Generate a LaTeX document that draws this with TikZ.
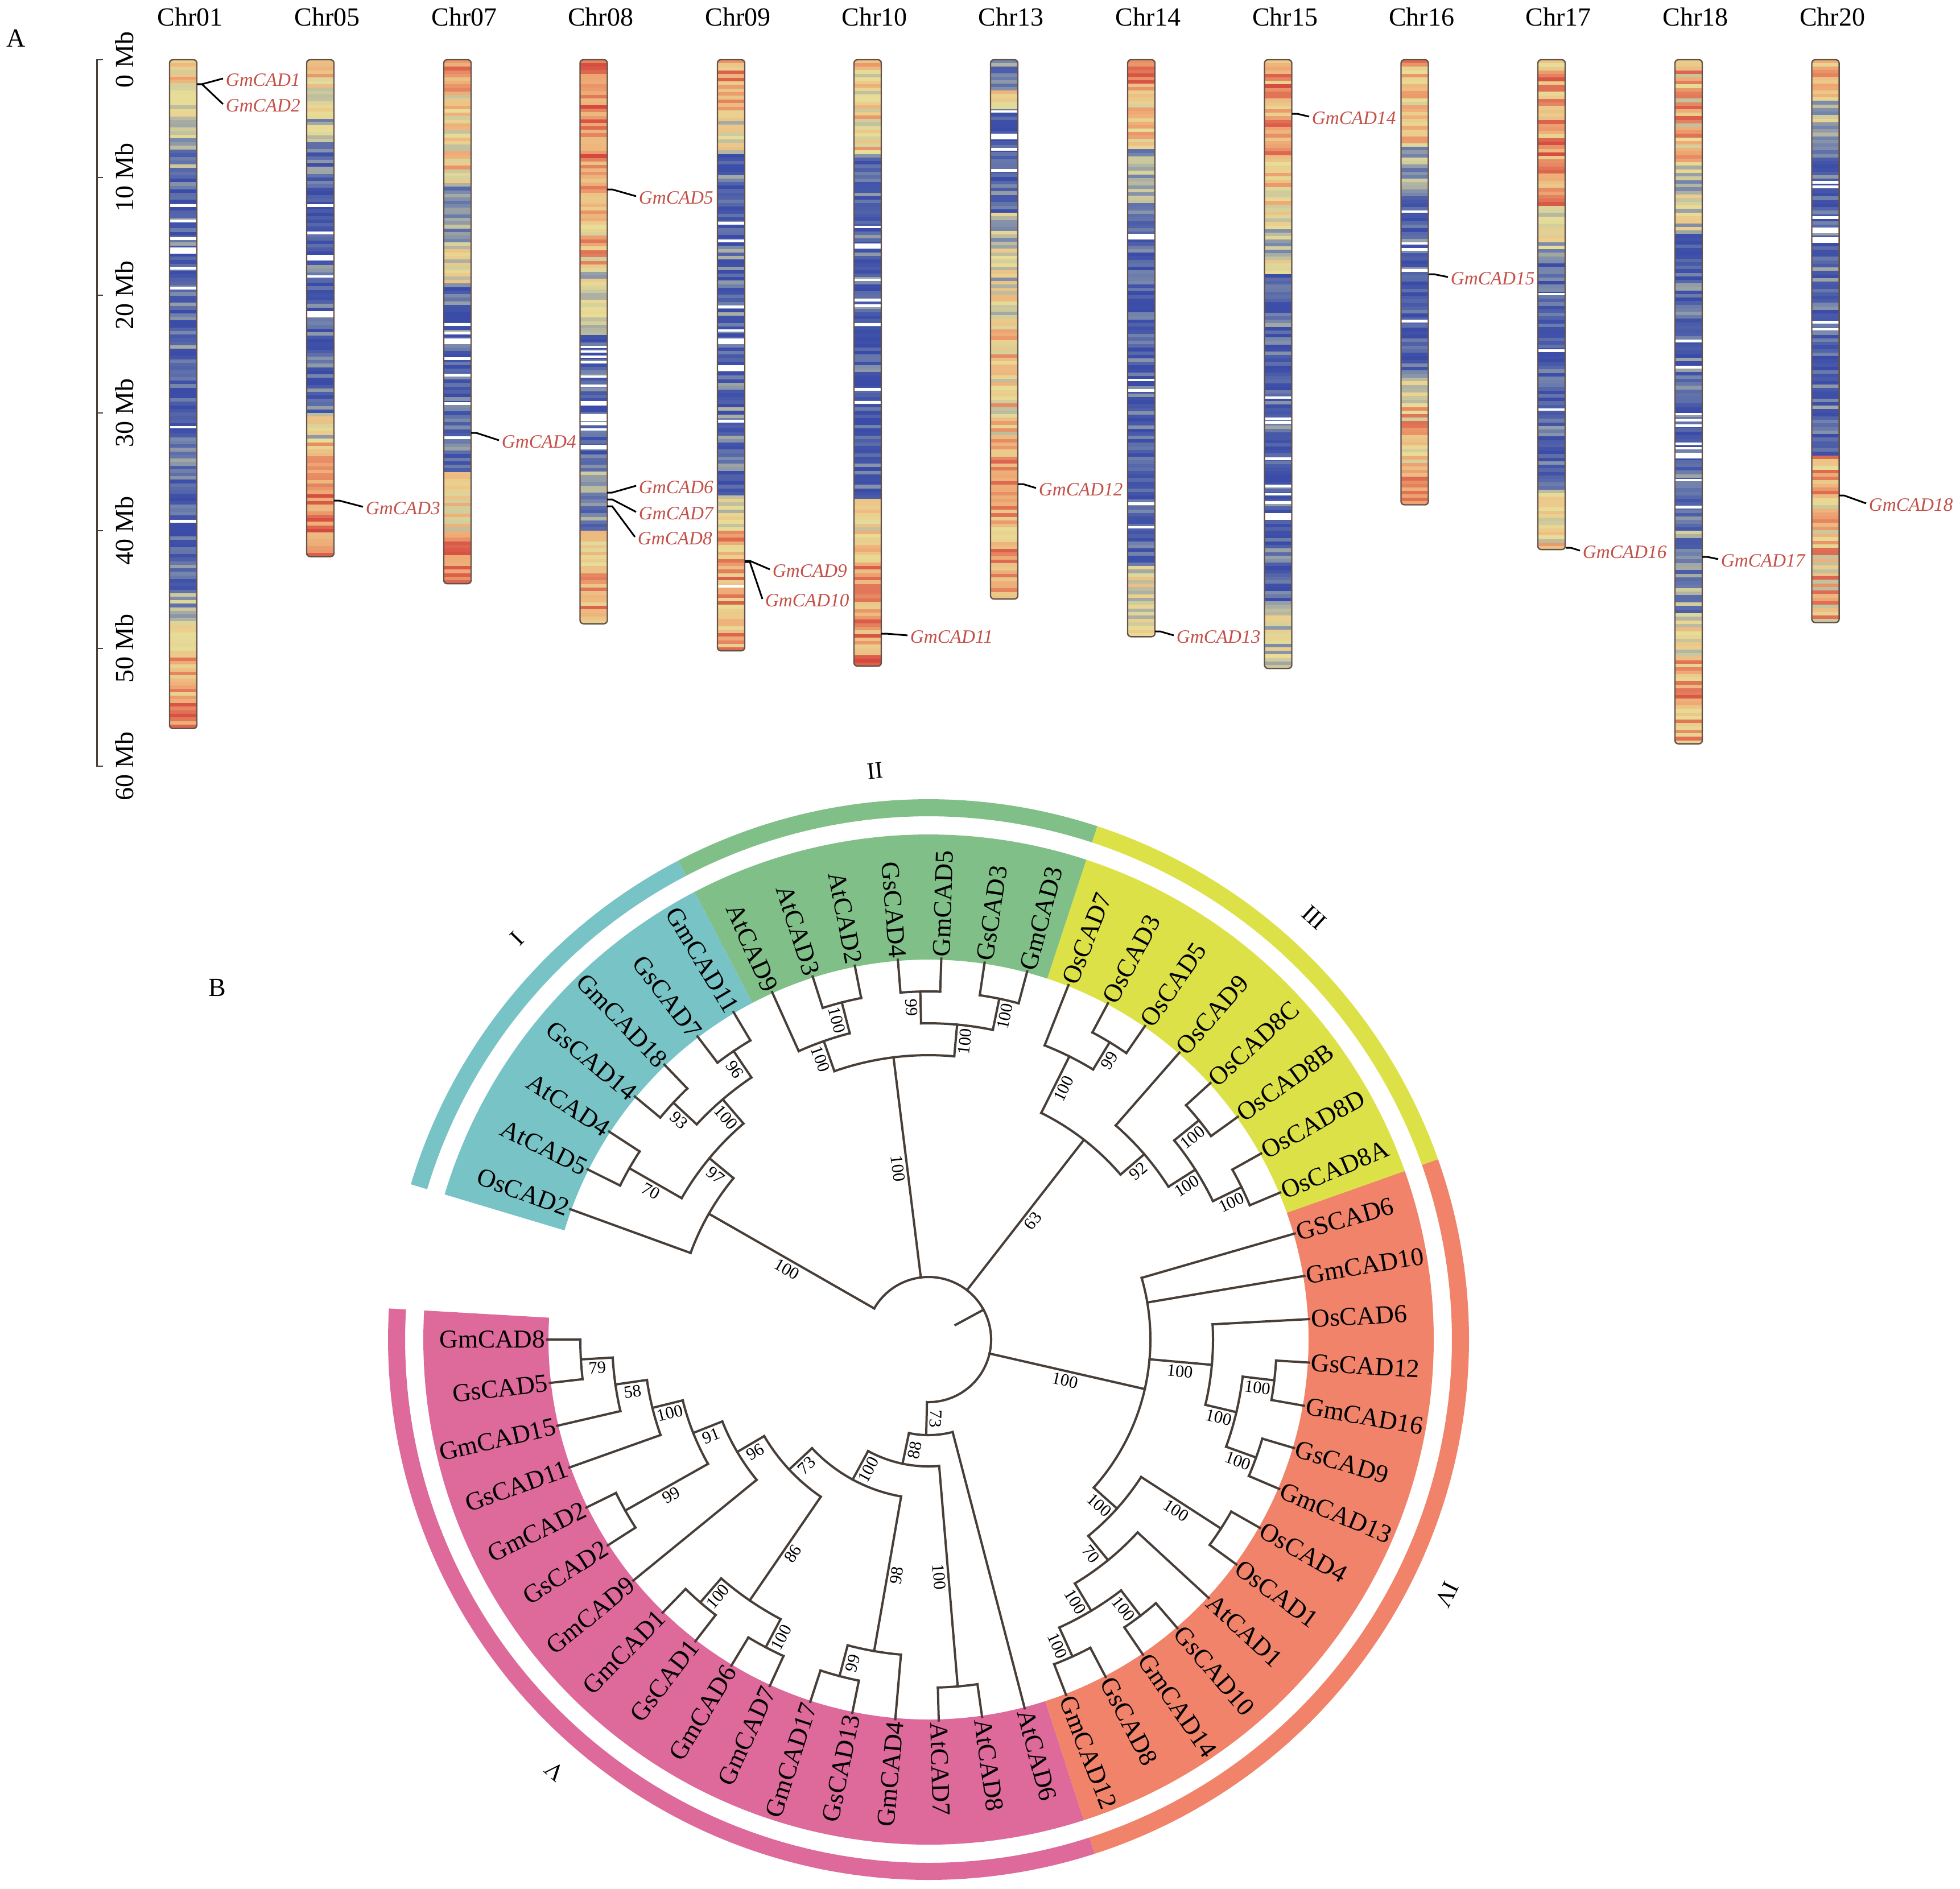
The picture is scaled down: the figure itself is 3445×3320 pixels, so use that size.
\documentclass[tikz,border=0pt]{standalone}
\usepackage{fontspec}
\setmainfont{Liberation Serif}
\definecolor{hZ}{RGB}{58,76,168}
\definecolor{hA}{RGB}{118,134,172}
\definecolor{hB}{RGB}{232,222,152}
\definecolor{hC}{RGB}{239,168,116}
\definecolor{hD}{RGB}{213,72,62}
\definecolor{cI}{RGB}{120,195,198}
\definecolor{cII}{RGB}{128,192,136}
\definecolor{cIII}{RGB}{221,225,72}
\definecolor{cIV}{RGB}{240,131,106}
\definecolor{cV}{RGB}{221,106,155}
\definecolor{brn}{RGB}{72,62,56}
\definecolor{chrout}{RGB}{100,82,72}
\definecolor{genered}{RGB}{196,80,72}
\newcommand\chrfont{\fontsize{11.5}{13}\selectfont}
\newcommand\genefont{\fontsize{8.3}{10}\selectfont\itshape}
\newcommand\leaffont{\fontsize{11.3}{13}\selectfont}
\newcommand\bootfont{\fontsize{7.6}{9}\selectfont}
\newcommand\romfont{\fontsize{10.5}{12}\selectfont}
% heat colour
\newcommand\sethc[1]{%
  \pgfmathsetmacro\hv{max(0,min(0.999,#1))}%
  \pgfmathtruncatemacro\hs{floor(\hv*4)}%
  \pgfmathtruncatemacro\hp{round(100*(\hv*4-\hs))}%
  \ifcase\hs \colorlet{hc}{hA!\hp!hZ}\or \colorlet{hc}{hB!\hp!hA}\or \colorlet{hc}{hC!\hp!hB}\or \colorlet{hc}{hD!\hp!hC}\else \colorlet{hc}{hD}\fi}
\newcommand\zone[5]{%
  \pgfmathtruncatemacro\zn{max(1,round((#3-#2)/0.3))}%
  \pgfmathsetmacro\zh{(#3-#2)/\zn}%
  \foreach \k in {1,...,\zn}{%
    \pgfmathsetmacro\rr{rnd}%
    \pgfmathsetmacro\dd{#4<0.01 ? #4+(#5-#4)*\rr*\rr : #4+(#5-#4)*\rr}%
    \sethc{\dd}%
    \pgfmathsetmacro\ya{105+20.7*(#2+(\k-1)*\zh)}%
    \pgfmathsetmacro\yb{105+20.7*(#2+\k*\zh)+0.8}%
    \fill[hc] ({#1-24},\ya) rectangle ({#1+24},\yb);
  }}
\newcommand\chrom[4]{%
  \begin{scope}
    \clip[rounded corners=1.5pt] ({#1-24},105) rectangle ({#1+24},{105+20.7*#2});
    \foreach \za/\zb/\zl/\zu in {#3} {\zone{#1}{\za}{\zb}{\zl}{\zu}}
    \foreach \wm/\wt in {#4} {\fill[white] ({#1-24},{105+20.7*\wm-\wt}) rectangle ({#1+24},{105+20.7*\wm+\wt});}
  \end{scope}
  \draw[draw=chrout,line width=0.6pt,rounded corners=1.5pt] ({#1-24},105) rectangle ({#1+24},{105+20.7*#2});}
\newcommand\gene[5]{\coordinate (#1) at (#3); \node[gene] (#2) at (#4) {#5};
  \draw[gl] (#1) -- ++(9,0) -- ([shift={(-4,-3)}]#2.west);}
% tree helpers
\newcommand\tarc[3]{\draw[br] (#1:#3) arc[start angle=#1,end angle=#2,radius=#3*0.25pt];}
\newcommand\tstem[4]{\draw[br] (#1:#2) -- node[boot]{#4} (#1:#3);}
\newcommand\sect[5]{\fill[#5] (#1:#3) arc[start angle=#1,end angle=#2,radius=#3*0.25pt] -- (#2:#4) arc[start angle=#2,end angle=#1,radius=#4*0.25pt] -- cycle;}
\begin{document}
\begin{tikzpicture}[x=0.25pt,y=-0.25pt,
  br/.style={draw=brn,line width=1pt,line cap=rect},
  boot/.style={midway,sloped,below,inner sep=1pt,font=\bootfont},
  leaf/.style={font=\leaffont,inner sep=0pt},
  gene/.style={font=\genefont,text=genered,inner sep=0pt,anchor=west},
  gl/.style={draw=black,line width=0.75pt},
  chrl/.style={font=\chrfont,anchor=base},
  rul/.style={draw=brn,line width=0.7pt},
  rom/.style={font=\romfont}]
\path[use as bounding box] (0,0) rectangle (3445,3320);
\pgfmathsetseed{4242}
% ---------------- Part A ----------------
\node[font=\chrfont] (labA) at (28,67) {A};
\draw[rul] (181,105) -- (170.5,105) -- (170.5,1347) -- (181,1347);
\foreach \v in {1,...,5}{\draw[rul] (170.5,{105+207*\v}) -- (181,{105+207*\v});}
\foreach \v/\t in {0/0 Mb,1/10 Mb,2/20 Mb,3/30 Mb,4/40 Mb,5/50 Mb,6/60 Mb}{\node[font=\chrfont,rotate=90] (mb\v) at (219,{105+207*\v}) {\t};}
\chrom{322}{56.8}{0/2/0.45/0.85, 2/4.5/0.4/0.7, 4.5/7/0.25/0.6, 7/9.5/0.05/0.45, 9.5/45/0/0.35, 45/48/0.15/0.5, 48/50.5/0.45/0.6, 50.5/54/0.55/0.9, 54/56.8/0.65/1}{12.4/2.3, 13.7/2.3, 15.2/2.3, 16.2/5.5, 17.7/2.3, 19.4/2.3, 31.2/2.3, 39.2/2.3}
\chrom{563}{42.2}{0/1.5/0.5/0.85, 1.5/5/0.4/0.7, 5/7/0.2/0.55, 7/30/0/0.35, 30/32.5/0.3/0.65, 32.5/36/0.5/0.85, 36/42.2/0.6/1}{12.4/2.3, 14.7/2.3, 16.8/5, 18.4/2.3, 21.6/5}
\chrom{804}{44.5}{0/3/0.6/0.95, 3/10.5/0.4/0.8, 10.5/15.5/0.1/0.45, 15.5/19/0.35/0.7, 19/35/0/0.35, 35/40/0.4/0.75, 40/44.5/0.7/1}{22.5/2.5, 23.2/2.5, 23.9/5, 25.4/2.3, 26.8/2.3, 29.2/2.3, 32.1/2.3}
\chrom{1043.5}{47.9}{0/12.5/0.6/1, 12.5/18/0.45/0.9, 18/23.4/0.25/0.6, 23.4/33.8/0/0.3, 33.8/40/0.05/0.45, 40/43/0.4/0.7, 43/47.9/0.55/0.95}{24.4/2, 24.8/2, 25.2/2, 25.7/2, 26.9/2.3, 27.7/2.3, 29.2/4, 30.2/2.3, 30.5/4, 30.9/2.3, 31.4/2.3, 32.9/4}
\chrom{1285}{50.2}{0/4.6/0.55/0.95, 4.6/8/0.3/0.65, 8/37/0/0.4, 37/40/0.3/0.65, 40/50.2/0.5/0.95}{13.9/2.3, 15.4/2.3, 21/2.3, 23/2.3, 23.9/5, 26.2/5, 30.7/2.3, 44.7/2.3}
\chrom{1525}{51.5}{0/8/0.4/0.8, 8/37.3/0/0.35, 37.3/43/0.4/0.75, 43/51.5/0.55/1}{14.2/2.3, 15.8/4.5, 18.7/2.3, 20.4/2.3, 20.9/2.3, 22.5/2.3, 28/2.3, 29.1/2.3}
\chrom{1765}{45.8}{0/2.6/0.05/0.4, 2.6/4.2/0.45/0.8, 4.2/13/0/0.35, 13/18.8/0.25/0.65, 18.8/22/0.35/0.7, 22/34/0.4/0.85, 34/37/0.65/1, 37/45.8/0.5/0.95}{4.4/2.3, 6.5/5, 7.6/2.3, 9.4/2.3}
\chrom{2006}{49}{0/2.6/0.6/1, 2.6/7.6/0.4/0.8, 7.6/13.4/0.1/0.5, 13.4/43/0/0.3, 43/49/0.35/0.65}{15/5, 27.2/2.3, 28.1/2.3, 37.7/2.3, 39.7/2.3}
\chrom{2246.5}{51.7}{0/8.7/0.55/1, 8.7/13.2/0.4/0.8, 13.2/18.2/0.25/0.6, 18.2/46/0/0.35, 46/51.7/0.25/0.6}{28.7/2.3, 30.5/2.3, 30.8/2.3, 33.9/2.3, 36.2/2.3, 36.9/2.3, 37.6/2.3, 38.8/6}
\chrom{2486.5}{37.8}{0/0.6/0.7/1, 0.6/7.4/0.4/0.8, 7.4/11.6/0.15/0.5, 11.6/27/0/0.35, 27/29.5/0.25/0.6, 29.5/37.8/0.45/0.95}{12.9/2.3, 15.6/2.3, 16.1/2.3, 17.9/2.3, 22.2/2.3}
\chrom{2727}{41.6}{0/12.4/0.5/1, 12.4/16.1/0.25/0.6, 16.1/36.5/0/0.35, 36.5/41/0.4/0.65, 41/41.6/0.6/0.85}{19.9/2.3, 24.7/2.3, 29.7/2.3}
\chrom{2968}{58.1}{0/8.7/0.4/0.95, 8.7/14.5/0.2/0.6, 14.5/40/0/0.35, 40/47/0.05/0.5, 47/51/0.35/0.7, 51/58.1/0.5/1}{23.9/2.3, 26.1/2.3, 30.1/2.3, 30.6/2.3, 31.1/2.3, 32.6/2.3, 33/2.3, 33.6/5, 35.7/2.3, 38/2.3}
\chrom{3208.5}{47.8}{0/3.2/0.5/0.85, 3.2/7.4/0.2/0.55, 7.4/33.6/0/0.35, 33.6/47.8/0.4/0.95}{10.4/2.3, 10.8/2.3, 13.4/2.3, 14.5/5, 15.3/5, 22.3/2.3, 22.9/2.3}
\foreach \cx/\cn in {322/Chr01,563/Chr05,804/Chr07,1043.5/Chr08,1285/Chr09,1525/Chr10,1765/Chr13,2006/Chr14,2246.5/Chr15,2486.5/Chr16,2727/Chr17,2968/Chr18,3208.5/Chr20}{\node[chrl] (\cn) at ({\cx+12},45) {\cn};}
\gene{e1}{g1}{346,148}{396,141}{GmCAD1}
\gene{e2}{g2}{346,148}{396,186}{GmCAD2}
\gene{e3}{g3}{587,880}{642,894}{GmCAD3}
\gene{e4}{g4}{828,761}{881,777}{GmCAD4}
\gene{e5}{g5}{1067,333}{1122,348}{GmCAD5}
\gene{e6}{g6}{1067,866}{1122,857}{GmCAD6}
\gene{e7}{g7}{1067,878}{1122,903}{GmCAD7}
\gene{e8}{g8}{1067,890}{1120,947}{GmCAD8}
\gene{e9}{g9}{1309,986}{1357,1004}{GmCAD9}
\gene{e10}{g10}{1309,988}{1344,1056}{GmCAD10}
\gene{e11}{g11}{1549,1114}{1599,1120}{GmCAD11}
\gene{e12}{g12}{1789,851}{1825,861}{GmCAD12}
\gene{e13}{g13}{2030,1110}{2067,1120}{GmCAD13}
\gene{e14}{g14}{2271,200}{2305,208}{GmCAD14}
\gene{e15}{g15}{2511,482}{2549,490}{GmCAD15}
\gene{e16}{g16}{2752,963}{2781,971}{GmCAD16}
\gene{e17}{g17}{2992,979}{3024,986}{GmCAD17}
\gene{e18}{g18}{3232,871}{3284,888}{GmCAD18}
% ---------------- Part B ----------------
\node[font=\chrfont] (labB) at (382,1736) {B};
\begin{scope}[shift={(1632,2355)},x=0.25pt,y=0.25pt]
  % coloured sectors
  \sect{176.7}{287.9}{668}{888}{cV}
  \sect{287.9}{379.5}{668}{888}{cIV}
  \sect{379.5}{431.8}{668}{888}{cIII}
  \sect{431.8}{477.6}{668}{888}{cII}
  \sect{477.6}{523.3}{668}{888}{cI}
  \sect{176.7}{287.9}{920}{950}{cV}
  \sect{287.9}{379.5}{920}{950}{cIV}
  \sect{379.5}{431.8}{920}{950}{cIII}
  \sect{431.8}{477.6}{920}{950}{cII}
  \sect{477.6}{523.3}{920}{950}{cI}
  % clade labels
  \node[rom,rotate=45.7] (rI) at (-723,705) {I};
  \node[rom,rotate=5.4] (rII) at (-94,1000) {II};
  \node[rom,rotate=-42.4] (rIII) at (678,742) {III};
  \node[rom,rotate=243.8] (rIV) at (911,-448) {IV};
  \node[rom,rotate=139.1] (rV) at (-657,-759) {V};
  % root
  \draw[br] (150.19:110) arc[start angle=150.19,end angle=-91.4,radius=27.5pt];
  \draw[br] (28.5:54) -- (28.5:110);
  \tstem{510.19}{110}{445}{100}
  \tstem{457.07}{110}{500}{100}
  \tstem{412.12}{110}{445}{63}
  \tstem{347.1}{110}{390}{100}
  \draw[br] (-91.4:110) -- node[boot,above,allow upside down]{73} (-91.4:168);
  % clade V
  \tarc{180}{186.54}{612}   \tstem{183.27}{556}{612}{79}
  \tarc{183.27}{193.08}{556} \tstem{188.17}{500}{556}{58}
  \tarc{188.17}{199.62}{500} \tstem{193.9}{445}{500}{100}
  \tarc{206.15}{212.69}{612} \tstem{209.42}{445}{612}{99}
  \tarc{193.9}{209.42}{445}  \tstem{201.66}{390}{445}{91}
  \tarc{201.66}{219.23}{390} \tstem{210.44}{335}{390}{96}
  \tarc{225.77}{232.31}{612} \tstem{229.04}{556}{612}{100}
  \tarc{238.85}{245.38}{612} \tstem{242.12}{556}{612}{100}
  \tarc{229.04}{242.12}{556} \tstem{235.58}{335}{556}{86}
  \tarc{210.44}{235.58}{335} \tstem{223.01}{280}{335}{73}
  \tarc{251.92}{258.46}{612} \tstem{255.19}{556}{612}{99}
  \tarc{255.19}{265}{556}    \tstem{260.1}{280}{556}{98}
  \tarc{223.01}{260.1}{280}  \tstem{241.55}{223}{280}{100}
  \tarc{271.54}{278.08}{612} \tstem{274.81}{223}{612}{100}
  \tarc{241.55}{274.81}{223} \tstem{258.18}{168}{223}{88}
  \tarc{258.18}{284.62}{168}
  % clade IV
  \tarc{291.15}{297.69}{612} \tstem{294.42}{556}{612}{100}
  \tarc{304.23}{310.77}{612} \tstem{307.5}{556}{612}{100}
  \tarc{294.42}{307.5}{556}  \tstem{300.96}{500}{556}{100}
  \tarc{300.96}{317.31}{500} \tstem{309.13}{445}{500}{70}
  \tarc{323.85}{330.38}{612} \tstem{327.12}{445}{612}{100}
  \tarc{309.13}{327.12}{445} \tstem{318.12}{390}{445}{100}
  \tarc{336.92}{343.46}{612} \tstem{340.19}{556}{612}{100}
  \tarc{350}{356.54}{612}    \tstem{353.27}{556}{612}{100}
  \tarc{340.19}{353.27}{556} \tstem{346.73}{500}{556}{100}
  \tarc{346.73}{363.08}{500} \tstem{354.9}{390}{500}{100}
  \tarc{318.12}{376.15}{390}
  % clade III
  \tarc{382.69}{389.23}{612} \tstem{385.96}{556}{612}{100}
  \tarc{395.77}{402.31}{612} \tstem{399.04}{556}{612}{100}
  \tarc{385.96}{399.04}{556} \tstem{392.5}{500}{556}{100}
  \tarc{392.5}{408.85}{500}  \tstem{400.68}{445}{500}{92}
  \tarc{415.38}{421.92}{612} \tstem{418.65}{556}{612}{99}
  \tarc{418.65}{428.46}{556} \tstem{423.56}{445}{556}{100}
  \tarc{400.68}{423.56}{445}
  % clade II
  \tarc{435}{441.54}{612}    \tstem{438.27}{556}{612}{100}
  \tarc{448.08}{454.62}{612} \tstem{451.35}{556}{612}{99}
  \tarc{438.27}{451.35}{556} \tstem{444.81}{500}{556}{100}
  \tarc{461.15}{467.69}{612} \tstem{464.42}{556}{612}{100}
  \tarc{464.42}{474.23}{556} \tstem{469.33}{500}{556}{100}
  \tarc{444.81}{469.33}{500}
  % clade I
  \tarc{480.77}{487.31}{612} \tstem{484.04}{556}{612}{96}
  \tarc{493.85}{500.38}{612} \tstem{497.12}{556}{612}{93}
  \tarc{484.04}{497.12}{556} \tstem{490.58}{500}{556}{100}
  \tarc{506.92}{513.46}{606} \tstem{510.19}{500}{606}{70}
  \tarc{490.58}{510.19}{500} \tstem{500.38}{445}{500}{97}
  \tarc{500.38}{520}{445}
  % leaves
  \foreach \i/\nm/\rp in {0/GmCAD8/612, 1/GsCAD5/612, 2/GmCAD15/556, 3/GsCAD11/500, 4/GmCAD2/612, 5/GsCAD2/612, 6/GmCAD9/390, 7/GmCAD1/612, 8/GsCAD1/612, 9/GmCAD6/612, 10/GmCAD7/612, 11/GmCAD17/612, 12/GsCAD13/612, 13/GmCAD4/556, 14/AtCAD7/612, 15/AtCAD8/612, 16/AtCAD6/168, 17/GmCAD12/612, 18/GsCAD8/612, 19/GmCAD14/612, 20/GsCAD10/612, 21/AtCAD1/500, 22/OsCAD1/612, 23/OsCAD4/612, 24/GmCAD13/612, 25/GsCAD9/612, 26/GmCAD16/612, 27/GsCAD12/612, 28/OsCAD6/500, 29/GmCAD10/390, 30/GSCAD6/390, 31/OsCAD8A/612, 32/OsCAD8D/612, 33/OsCAD8B/612, 34/OsCAD8C/612, 35/OsCAD9/500, 36/OsCAD5/612, 37/OsCAD3/612, 38/OsCAD7/556, 39/GmCAD3/612, 40/GsCAD3/612, 41/GmCAD5/612, 42/GsCAD4/612, 43/AtCAD2/612, 44/AtCAD3/612, 45/AtCAD9/556, 46/GmCAD11/612, 47/GsCAD7/612, 48/GmCAD18/612, 49/GsCAD14/612, 50/AtCAD4/606, 51/AtCAD5/606, 52/OsCAD2/445}{
    \pgfmathsetmacro\lth{180+\i*6.538462}
    \pgfmathtruncatemacro\lft{or(\lth<270,\lth>450)}
    \draw[br] (\lth:\rp) -- (\lth:670);
    \ifnum\lft=1
      \node[leaf,anchor=east,rotate=\lth-180] (L\i) at (\lth:673) {\nm};
    \else
      \node[leaf,anchor=west,rotate=\lth] (L\i) at (\lth:673) {\nm};
    \fi
  }
\end{scope}
\end{tikzpicture}
\end{document}
